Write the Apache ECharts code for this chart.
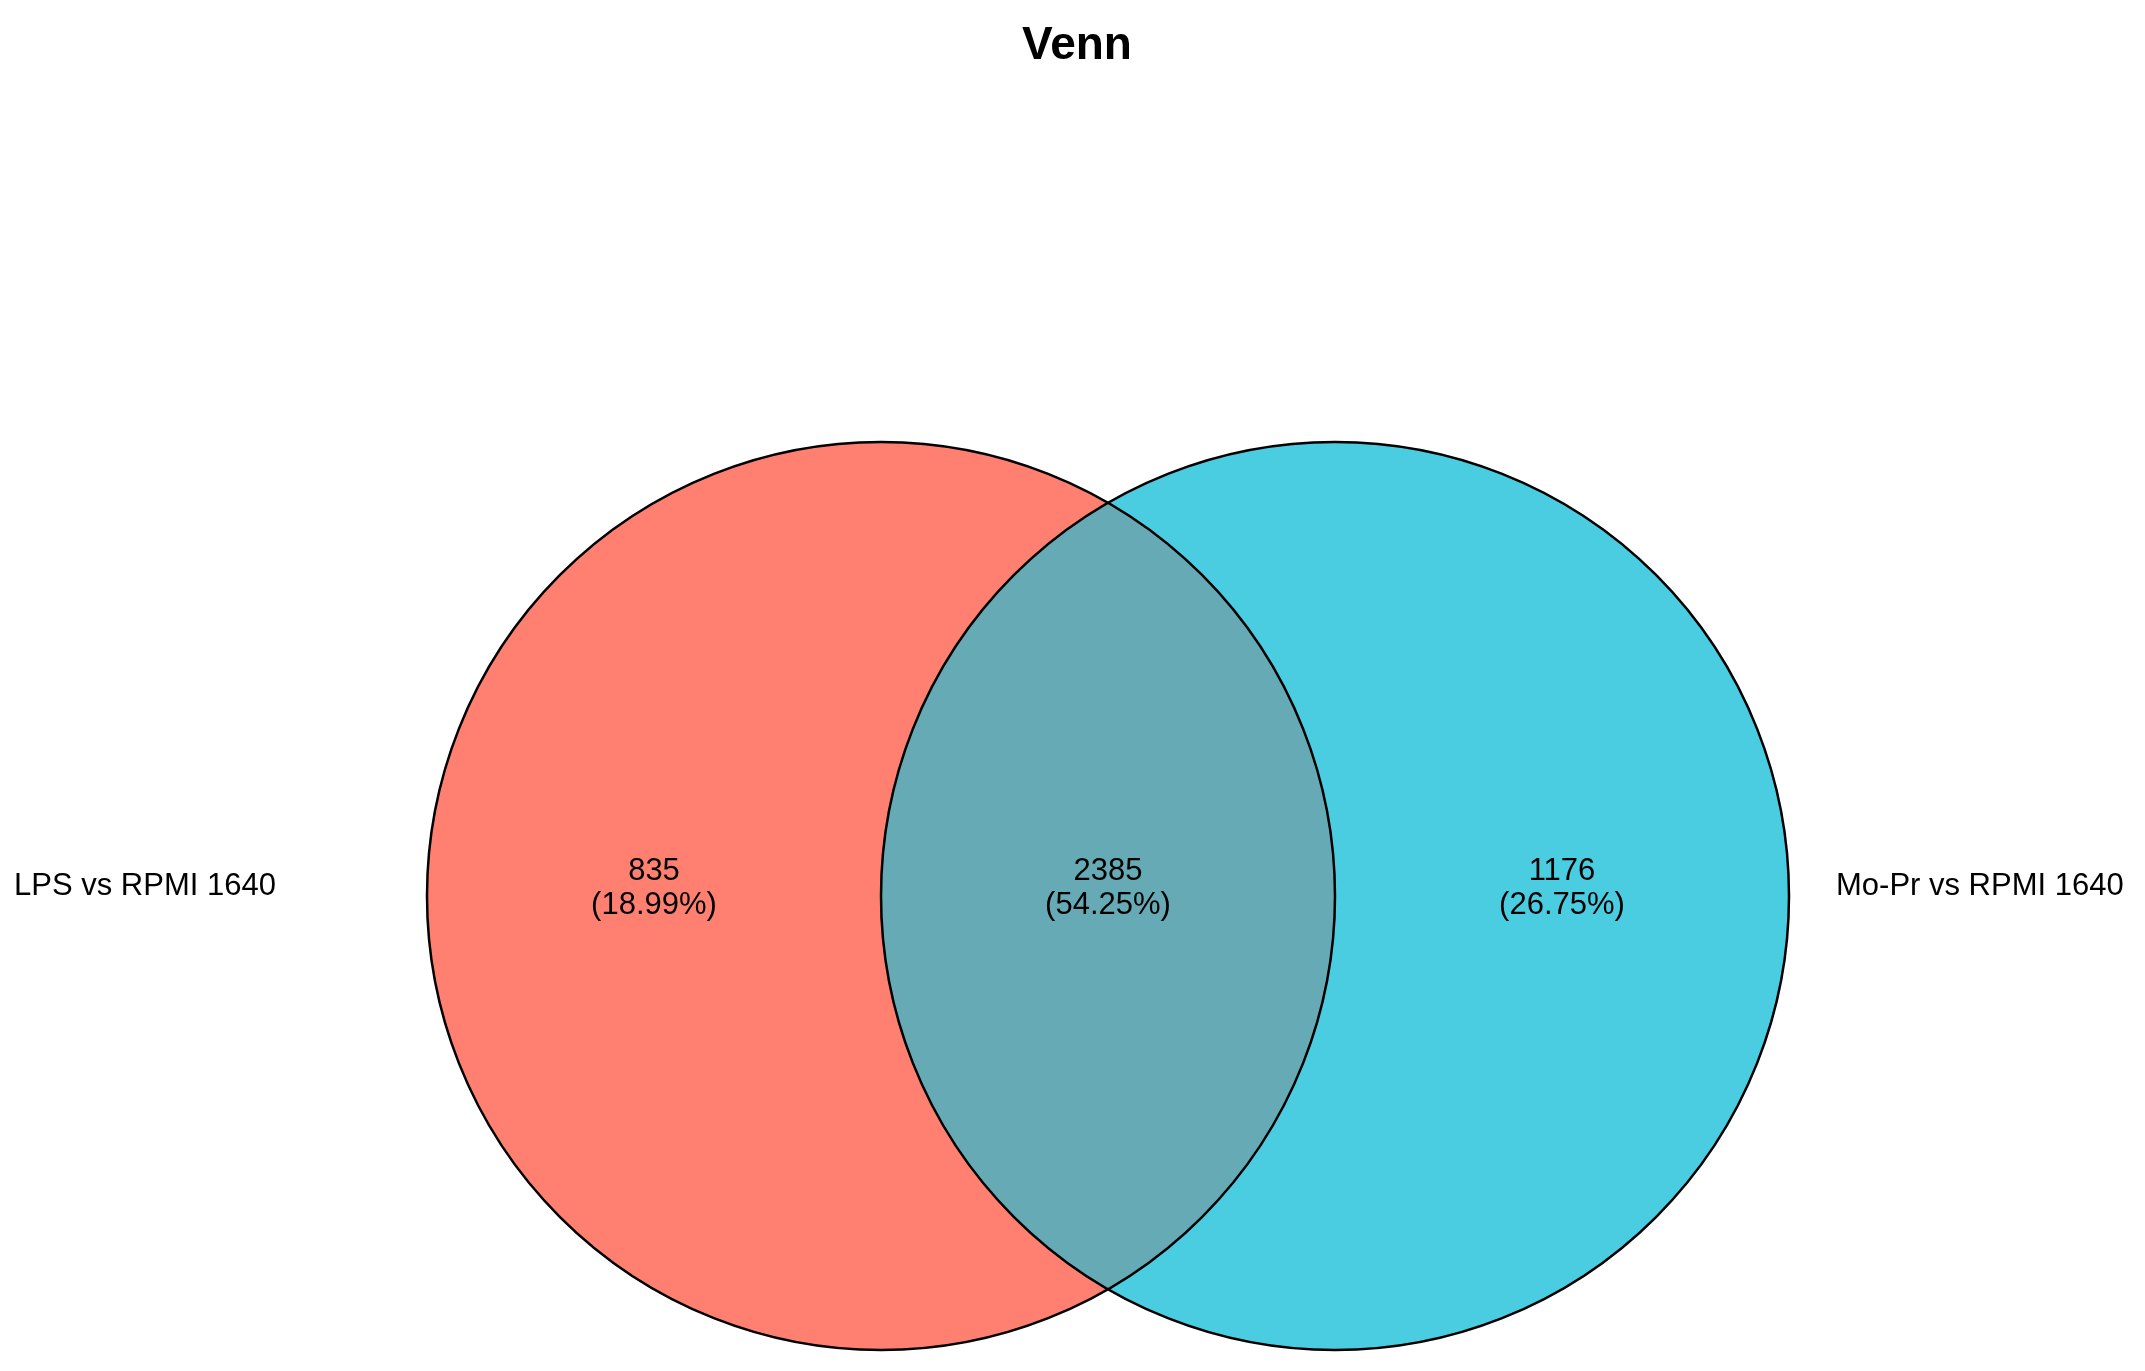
<!DOCTYPE html>
<html>
<head>
<meta charset="utf-8">
<script src="https://cdn.jsdelivr.net/npm/echarts@6/dist/echarts.min.js"></script>
<style>html,body{margin:0;padding:0;background:#fff}#main{width:2145px;height:1371px}</style>
</head>
<body>
<div id="main"></div>
<script>
// 集合与数据
var setNames = ['LPS vs RPMI 1640', 'Mo-Pr vs RPMI 1640'];
var setColors = ['#FF8070', '#4BCDE1'];
var overlapColor = '#66AAB5';
var regionCounts = [835, 2385, 1176];
var regionPercents = ['18.99%', '54.25%', '26.75%'];
// 画布坐标系下的圆心与半径
var circleX = [881, 1335];
var circleY = 896;
var circleR = 454;
var countX = [654, 1108, 1562];

var myChart = echarts.init(document.getElementById('main'));

function renderVenn(params, api) {
    var c0 = api.coord([circleX[0], circleY]);
    var c1 = api.coord([circleX[1], circleY]);
    var rPix = api.size([circleR, 0])[0];
    var d = c1[0] - c0[0];
    var a = d / 2;
    var h = Math.sqrt(rPix * rPix - a * a);
    var px = c0[0] + a;
    var lens = 'M' + px + ',' + (c0[1] - h) +
        ' A' + rPix + ',' + rPix + ' 0 0 1 ' + px + ',' + (c0[1] + h) +
        ' A' + rPix + ',' + rPix + ' 0 0 1 ' + px + ',' + (c0[1] - h) + 'Z';
    var kids = [
        {type: 'circle', shape: {cx: c0[0], cy: c0[1], r: rPix}, style: {fill: setColors[0]}},
        {type: 'circle', shape: {cx: c1[0], cy: c1[1], r: rPix}, style: {fill: setColors[1]}},
        {type: 'path', shape: {pathData: lens}, style: {fill: overlapColor}},
        {type: 'circle', shape: {cx: c0[0], cy: c0[1], r: rPix}, style: {fill: 'none', stroke: '#000', lineWidth: 2.5}},
        {type: 'circle', shape: {cx: c1[0], cy: c1[1], r: rPix}, style: {fill: 'none', stroke: '#000', lineWidth: 2.5}}
    ];
    for (var i = 0; i < regionCounts.length; i++) {
        var p = api.coord([countX[i], circleY]);
        kids.push({type: 'text', x: p[0], y: p[1] - 8, style: {
            text: regionCounts[i] + '\n(' + regionPercents[i] + ')',
            fontFamily: 'Liberation Sans', fontSize: 31, lineHeight: 34,
            fill: '#000', align: 'center', verticalAlign: 'middle'}});
    }
    var l = api.coord([14, circleY]);
    kids.push({type: 'text', x: l[0], y: l[1] - 10, style: {text: setNames[0],
        fontFamily: 'Liberation Sans', fontSize: 31, fill: '#000', align: 'left', verticalAlign: 'middle'}});
    var r = api.coord([1836, circleY]);
    kids.push({type: 'text', x: r[0], y: r[1] - 10, style: {text: setNames[1],
        fontFamily: 'Liberation Sans', fontSize: 31, fill: '#000', align: 'left', verticalAlign: 'middle'}});
    return {type: 'group', children: kids};
}

myChart.setOption({
    animation: false,
    title: {
        text: 'Venn',
        left: 1072, top: 18, textAlign: 'center',
        textStyle: {fontFamily: 'Liberation Sans', fontWeight: 'bold', fontSize: 46, color: '#000'}
    },
    grid: {left: 0, right: 0, top: 0, bottom: 0},
    xAxis: {type: 'value', min: 0, max: 2145, show: false},
    yAxis: {type: 'value', min: 0, max: 1371, inverse: true, show: false},
    series: [{
        type: 'custom',
        renderItem: renderVenn,
        data: [[0, 0]],
        clip: false
    }]
});
</script>
</body>
</html>
